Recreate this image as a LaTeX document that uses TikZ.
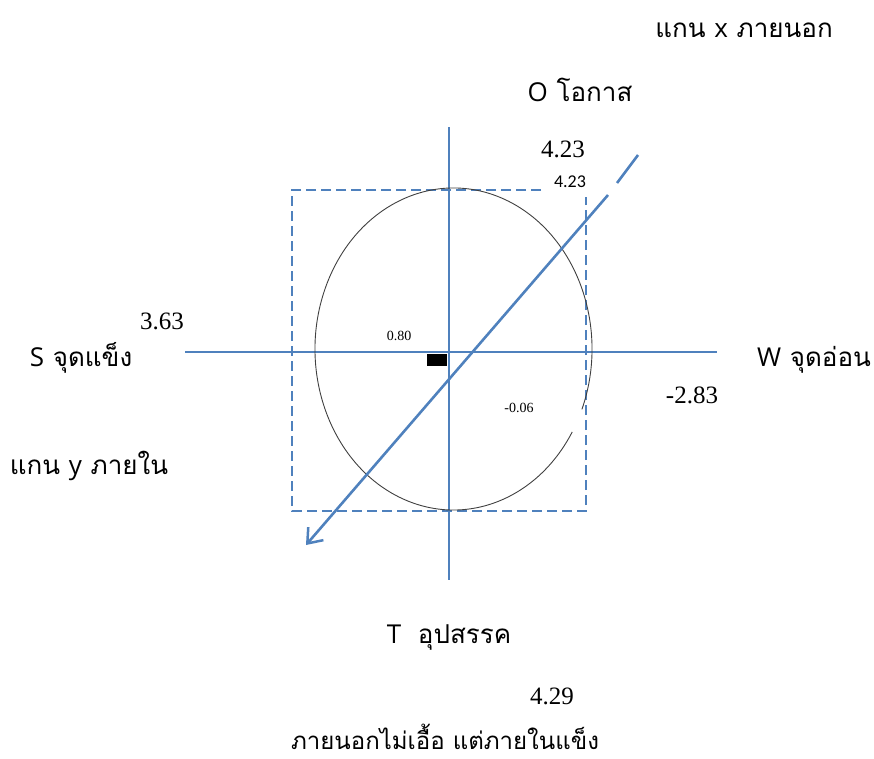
\documentclass[tikz,border=0pt]{standalone}
\usepackage{fontspec}
\setmainfont{Liberation Serif}
\newfontfamily\thaif[Script=Thai]{Loma}
\newfontfamily\latf{Open Sans}
\newfontfamily\calf{Carlito}
\usetikzlibrary{arrows.meta}
\definecolor{axisblue}{HTML}{4F81BD}
\definecolor{ellgray}{HTML}{404040}
\tikzset{
  axisline/.style={draw=axisblue, line width=2.6pt},
  dashbox/.style={draw=axisblue, line width=2.6pt, dash pattern=on 10pt off 5pt},
  ell/.style={draw=ellgray, line width=0.9pt},
  thai/.style={font=\thaif\fontsize{26}{30}\selectfont, inner sep=0pt, anchor=base},
  thaism/.style={font=\thaif\fontsize{24}{28}\selectfont, inner sep=0pt, anchor=base},
  bignum/.style={font=\fontsize{25}{28}\selectfont, inner sep=0pt, anchor=base},
  smallnum/.style={font=\fontsize{14}{16}\selectfont, inner sep=0pt, anchor=base},
  sansnum/.style={font=\calf\fontsize{18}{20}\selectfont, inner sep=0pt, anchor=base},
}
\begin{document}
\begin{tikzpicture}[x=1pt,y=-1pt]
\useasboundingbox (0,0) rectangle (874,758);
% axes
\coordinate (hl) at (185,352);
\coordinate (hr) at (717,352);
\coordinate (vt) at (449,127);
\coordinate (vb) at (449,580);
\draw[axisline] (hl) -- (hr);
\draw[axisline] (vt) -- (vb);
% dashed rectangle with gap at top-right
\coordinate (r1) at (541,190);
\coordinate (r2) at (292,190);
\coordinate (r3) at (292,511);
\coordinate (r4) at (586,511);
\coordinate (r5) at (586,197);
\draw[dashbox] (r1) -- (r2) -- (r3) -- (r4) -- (r5);
% ellipse with a gap on the lower right
\coordinate (ec) at (453.5,349);
\draw[ell] ([shift={(-22:138.5pt and 161pt)}]ec) arc[start angle=-22, end angle=329, x radius=138.5pt, y radius=161pt];
% black mark
\fill[black] (427,354) rectangle (447,366);
% diagonal arrow
\coordinate (dtop) at (638,155);
\coordinate (dgap1) at (617,183);
\coordinate (dgap2) at (608,195);
\coordinate (dend) at (306,545);
\draw[axisline] (dtop) -- (dgap1);
\draw[axisline, -{Straight Barb[length=13pt,width=20pt,line width=2.5pt]}] (dgap2) -- (dend);
% labels
\node[thai] (xaxis) at (744,37) {แกน {\latf x} ภายนอก};
\node[thai] (opp) at (580,101) {{\latf O} โอกาส};
\node[bignum] (n423a) at (563,157) {4.23};
\node[sansnum] (n423b) at (570,187) {4.23};
\node[bignum] (n363) at (162,329) {3.63};
\node[thai] (str) at (81,366) {{\latf S} จุดแข็ง};
\node[smallnum] (n080) at (399,340) {0.80};
\node[thai] (weak) at (814,366) {{\latf W} จุดอ่อน};
\node[smallnum] (n006) at (519,412) {-0.06};
\node[bignum] (n283) at (692,403) {-2.83};
\node[thai] (yaxis) at (89,474) {แกน {\latf y} ภายใน};
\node[thai] (thr) at (449,643) {{\latf T}\hspace{8pt} อุปสรรค};
\node[bignum] (n429) at (552,704) {4.29};
\node[thaism] (concl) at (445,749) {ภายนอกไม่เอื้อ แต่ภายในแข็ง};
\end{tikzpicture}
\end{document}
